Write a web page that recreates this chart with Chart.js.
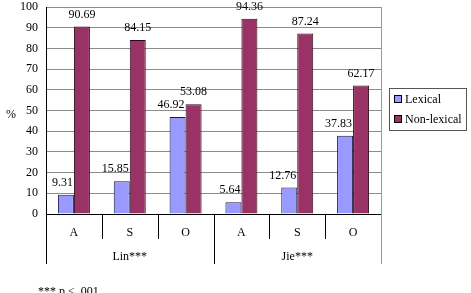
<!DOCTYPE html>
<html lang="en">

<head>
    <meta charset="UTF-8">
    <script src="https://cdn.jsdelivr.net/npm/chart.js"></script>
    <title>Lexical vs Non-lexical</title>
    <style>
        html, body { margin: 0; padding: 0; background: #fff; }
        #wrap { width: 471px; height: 293px; }
    </style>
</head>

<body>
    <div id="wrap">
        <canvas id="lexChart" width="471" height="293"></canvas>
    </div>

    <script>
        // data
        const categories = ['A', 'S', 'O', 'A', 'S', 'O'];
        const groups = ['Lin***', 'Jie***'];
        const lexical = [9.31, 15.85, 46.92, 5.64, 12.76, 37.83];
        const nonLexical = [90.69, 84.15, 53.08, 94.36, 87.24, 62.17];
        const seriesNames = ['Lexical', 'Non-lexical'];
        const footnote = '*** p < .001';

        const serif = '"Liberation Serif", "Times New Roman", serif';

        // labels, dividers, group names, legend and footnote
        const extras = {
            id: 'extras',
            afterDraw(chart) {
                const ctx = chart.ctx;
                const x = chart.scales.x;
                const area = chart.chartArea;
                const half = (x.getPixelForValue(1) - x.getPixelForValue(0)) / 2;

                ctx.save();
                ctx.font = '12px ' + serif;
                ctx.fillStyle = '#000';

                // value labels
                chart.data.datasets.forEach((ds, di) => {
                    const meta = chart.getDatasetMeta(di);
                    meta.data.forEach((bar, i) => {
                        const txt = ds.data[i].toFixed(2);
                        ctx.textBaseline = 'middle';
                        if (di === 0) {
                            ctx.textAlign = 'right';
                            ctx.fillText(txt, bar.x + bar.width / 2 - 1, bar.y - 12);
                        } else {
                            ctx.textAlign = 'center';
                            ctx.fillText(txt, bar.x, bar.y - 12);
                        }
                    });
                });

                // category dividers below the axis
                ctx.strokeStyle = '#000';
                ctx.lineWidth = 1;
                for (let i = 0; i <= categories.length; i++) {
                    const px = Math.round(x.getPixelForValue(i) - half) + 0.5;
                    const long = i % 3 === 0;
                    if (i === categories.length) ctx.strokeStyle = '#999';
                    ctx.beginPath();
                    ctx.moveTo(px, i === categories.length ? area.top : area.bottom);
                    ctx.lineTo(px, area.bottom + (long ? 50 : 25));
                    ctx.stroke();
                }

                // group names
                ctx.textAlign = 'center';
                ctx.textBaseline = 'middle';
                groups.forEach((g, gi) => {
                    const cx = x.getPixelForValue(gi * 3 + 1);
                    ctx.fillText(g, cx, area.bottom + 43);
                });

                // % label
                ctx.fillText('%', 11, 115);

                // legend box
                const lx = 389, ly = 88;
                ctx.strokeStyle = '#555';
                ctx.strokeRect(lx + 0.5, ly + 0.5, 77, 42);
                ctx.textAlign = 'left';
                chart.data.datasets.forEach((ds, di) => {
                    const cy = ly + 11 + di * 20;
                    ctx.fillStyle = ds.backgroundColor;
                    ctx.fillRect(lx + 5, cy - 4, 8, 8);
                    ctx.strokeStyle = '#000';
                    ctx.strokeRect(lx + 5.5, cy - 3.5, 7, 7);
                    ctx.fillStyle = '#000';
                    ctx.fillText(ds.label, lx + 16, cy + 1);
                });

                // footnote, cut off at the bottom like the source
                ctx.textBaseline = 'top';
                ctx.fillText(footnote, 38, 286);
                ctx.restore();
            }
        };

        const ctx = document.getElementById('lexChart').getContext('2d');
        new Chart(ctx, {
            type: 'bar',
            data: {
                labels: categories,
                datasets: [{
                    label: seriesNames[0],
                    data: lexical,
                    backgroundColor: '#9999FF',
                    borderColor: '#1a1a40',
                    borderWidth: 1
                }, {
                    label: seriesNames[1],
                    data: nonLexical,
                    backgroundColor: '#993366',
                    borderColor: '#2a0a18',
                    borderWidth: 1
                }]
            },
            options: {
                responsive: false,
                animation: false,
                layout: {
                    padding: { top: 0, right: 90, bottom: 0, left: 0 }
                },
                datasets: {
                    bar: {
                        categoryPercentage: 0.573,
                        barPercentage: 1
                    }
                },
                plugins: {
                    legend: { display: false },
                    tooltip: { enabled: false }
                },
                scales: {
                    x: {
                        grid: { display: false, drawTicks: false },
                        border: { color: '#000' },
                        ticks: {
                            color: '#000',
                            padding: 12,
                            font: { family: serif, size: 12 }
                        },
                        afterFit: (scale) => { scale.height = 79; }
                    },
                    y: {
                        min: 0,
                        max: 100,
                        grid: { color: '#8c8c8c', tickLength: 8, tickColor: 'rgba(0,0,0,0)' },
                        border: { color: '#000' },
                        ticks: {
                            stepSize: 10,
                            color: '#000',
                            padding: 0,
                            font: { family: serif, size: 12 }
                        },
                        afterFit: (scale) => { scale.width = 46; }
                    }
                }
            },
            plugins: [extras]
        });
    </script>
</body>

</html>
